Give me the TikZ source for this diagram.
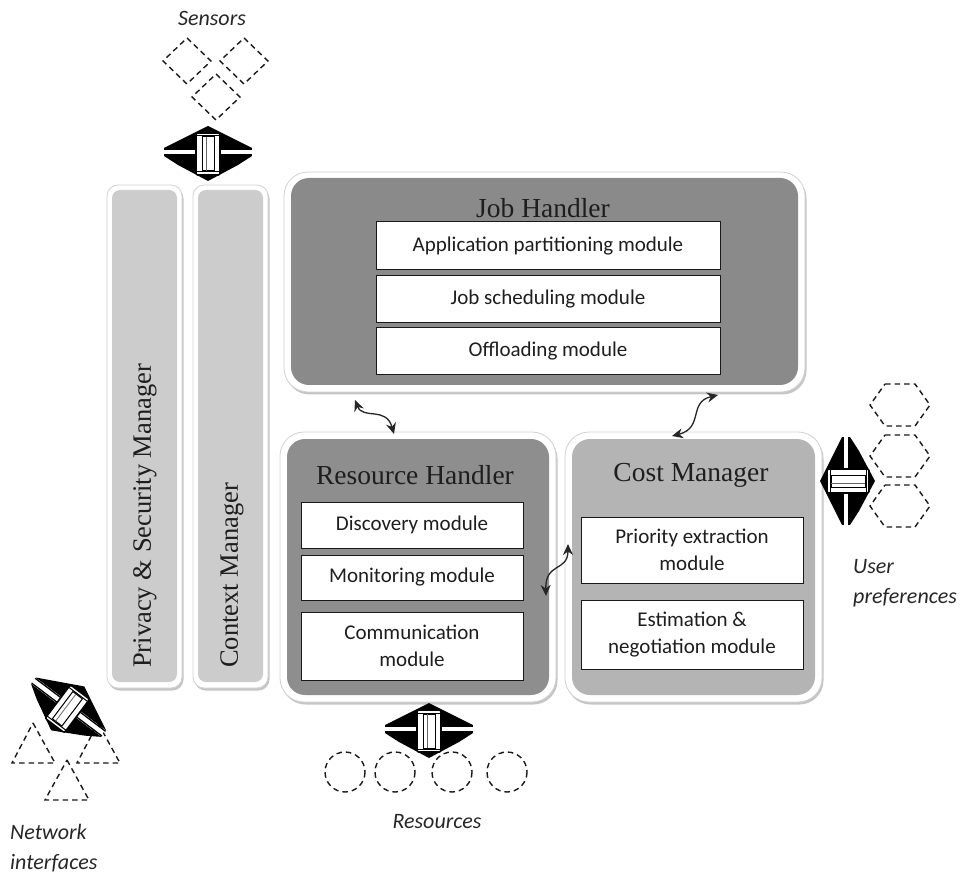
\documentclass[tikz,border=0pt]{standalone}
\usepackage{fontspec}
\setmainfont{Liberation Serif}
\newfontfamily\calfont{Carlito}
\usetikzlibrary{arrows.meta,shadows,calc}
\definecolor{jhgray}{HTML}{8A8A8A}
\definecolor{rhgray}{HTML}{8E8E8E}
\definecolor{cmgray}{HTML}{B4B4B4}
\definecolor{sidegray}{HTML}{CCCCCC}
\definecolor{txt}{HTML}{1E1E1E}
\tikzset{
  frame/.style={fill=white, draw=black!18, line width=0.8pt, rounded corners=#1,
    drop shadow={shadow xshift=1.5pt, shadow yshift=-2.5pt, fill=black!45, opacity=0.5}},
  frame/.default=22pt,
  panel/.style={fill=#1, draw=none, rounded corners=18pt},
  sidepanel/.style={fill=sidegray, draw=none, rounded corners=8pt},
  modbox/.style={draw=black!90, line width=1pt, fill=white, text=txt, align=center, inner sep=0pt,
    font=\calfont\fontsize{21}{27}\selectfont},
  titletext/.style={text=txt, inner sep=0pt, font=\fontsize{27.5}{30}\selectfont},
  sidetext/.style={text=txt, inner sep=0pt, rotate=90, anchor=west, font=\fontsize{26.5}{30}\selectfont},
  itlabel/.style={text=black!85, inner sep=0pt, align=left, font=\calfont\itshape\fontsize{22}{30}\selectfont},
  dsh/.style={draw=black!90, line width=1.4pt, dash pattern=on 5.5pt off 4pt},
  wv/.style={draw=black!85, line width=1.3pt, {Stealth[length=11pt,width=10pt]}-{Stealth[length=11pt,width=10pt]}},
  bigarrow/.pic={
    \fill[black] (-44,-5) -- (-30,-12) -- (0,-27) -- (30,-12) -- (44,-5) -- cycle;
    \fill[black] (-44,3) -- (44,3) -- (30,12) -- (0,28) -- (-30,12) -- cycle;
    \fill[white] (-43,-3.5) rectangle (43,1.5);
    \draw[black, line width=1.3pt] (-44,-4) -- (44,-4) (-44,2) -- (44,2);
    \draw[black, fill=white, line width=1.6pt, rounded corners=2pt] (-12,-20) rectangle (12,22);
    \draw[black, fill=white, line width=1pt] (-6,-16) rectangle (6,18);
    \draw[black!60, line width=0.8pt] (-2,-16) -- (-2,18);
    \draw[black, line width=1pt] (-12,-17) -- (12,-17) (-12,19) -- (12,19);
  }
}
\begin{document}
\begin{tikzpicture}[x=1pt, y=-1pt]
\useasboundingbox (0,0) rectangle (967,877);

% side managers
\node[frame=11pt, minimum width=75pt, minimum height=503pt] (psf) at (144.5,436.5) {};
\node[sidepanel, minimum width=65pt, minimum height=492pt] (ps) at (144.5,436) {};
\node[sidetext] (pst) at (145,668) {Privacy \& Security Manager};
\node[frame=11pt, minimum width=75pt, minimum height=503pt] (cmf) at (230.5,436.5) {};
\node[sidepanel, minimum width=65pt, minimum height=492pt] (ctx) at (230.5,436) {};
\node[sidetext] (ctxt) at (232,668) {Context Manager};

% job handler
\node[frame=24pt, minimum width=521pt, minimum height=220pt] (jhf) at (544.5,282) {};
\node[panel=jhgray, minimum width=507pt, minimum height=207pt] (jh) at (544.5,281.5) {};
\node[titletext] (jht) at (543,208) {Job Handler};
\node[modbox, minimum width=344pt, minimum height=48pt] (app) at (548,246) {Application partitioning module};
\node[modbox, minimum width=344pt, minimum height=47pt] (jsm) at (548,299.5) {Job scheduling module};
\node[modbox, minimum width=344pt, minimum height=47pt] (off) at (548,351.5) {Offloading module};

% resource handler
\node[frame=24pt, minimum width=276pt, minimum height=270pt] (rhf) at (418,567) {};
\node[panel=rhgray, minimum width=262pt, minimum height=256pt] (rh) at (418,567) {};
\node[titletext] (rht) at (415,475) {Resource Handler};
\node[modbox, minimum width=222pt, minimum height=46pt] (disc) at (412,525) {Discovery module};
\node[modbox, minimum width=222pt, minimum height=45pt] (mon) at (412,577.5) {Monitoring module};
\node[modbox, minimum width=222pt, minimum height=68pt] (comm) at (412,646) {Communication\\module};

% cost manager
\node[frame=24pt, minimum width=257pt, minimum height=270pt] (cmgf) at (693.5,567) {};
\node[panel=cmgray, minimum width=243pt, minimum height=256pt] (cmg) at (693.5,567) {};
\node[titletext] (cmt) at (691,475) {Cost Manager};
\node[modbox, minimum width=222pt, minimum height=66pt] (prio) at (692,550) {Priority extraction\\module};
\node[modbox, minimum width=222pt, minimum height=69pt] (est) at (692,634.5) {Estimation \&\\negotiation module};

% wavy connectors
\coordinate (w1a) at (355,400);
\coordinate (w1b) at (394,434);
\coordinate (w2a) at (718,395);
\coordinate (w2b) at (672,436);
\coordinate (w3a) at (568,544);
\coordinate (w3b) at (546,596);
\draw[wv] (w1a) .. controls (363,420) and (386,406) .. (w1b);
\draw[wv] (w2a) .. controls (688,402) and (704,428) .. (w2b);
\draw[wv] (w3a) .. controls (568,572) and (545,562) .. (w3b);

% sensors
\node[itlabel] (sens) at (212,18) {Sensors};
\draw[dsh] (187,38) -- (211,61) -- (187,84) -- (163,61) -- cycle;
\draw[dsh] (244,38) -- (268,61) -- (244,84) -- (220,61) -- cycle;
\draw[dsh] (216,74) -- (240,97) -- (216,120) -- (192,97) -- cycle;
\pic at (208,153) {bigarrow};

% resources
\draw[dsh] (345,772) circle (20);
\draw[dsh] (395,772) circle (20);
\draw[dsh] (452,772) circle (20);
\draw[dsh] (507,772) circle (20);
\pic at (429,730) {bigarrow};
\node[itlabel] (res) at (437,822) {Resources};

% user preferences
\draw[dsh] (885,384) -- (915,384) -- (930,405) -- (915,426) -- (885,426) -- (870,405) -- cycle;
\draw[dsh] (885,435) -- (915,435) -- (930,456) -- (915,477) -- (885,477) -- (870,456) -- cycle;
\draw[dsh] (885,485) -- (915,485) -- (930,506) -- (915,527) -- (885,527) -- (870,506) -- cycle;
\pic[rotate=90] at (847,481) {bigarrow};
\node[itlabel, anchor=west] (up) at (853,583) {User\\preferences};

% network interfaces
\draw[dsh] (33,723) -- (55,763) -- (12,763) -- cycle;
\draw[dsh] (98,723) -- (120,763) -- (77,763) -- cycle;
\draw[dsh] (67,760) -- (89,800) -- (45,800) -- cycle;
\pic[rotate=-37] at (68,708) {bigarrow};
\node[itlabel, anchor=west] (net) at (10,848) {Network\\interfaces};
\end{tikzpicture}
\end{document}
